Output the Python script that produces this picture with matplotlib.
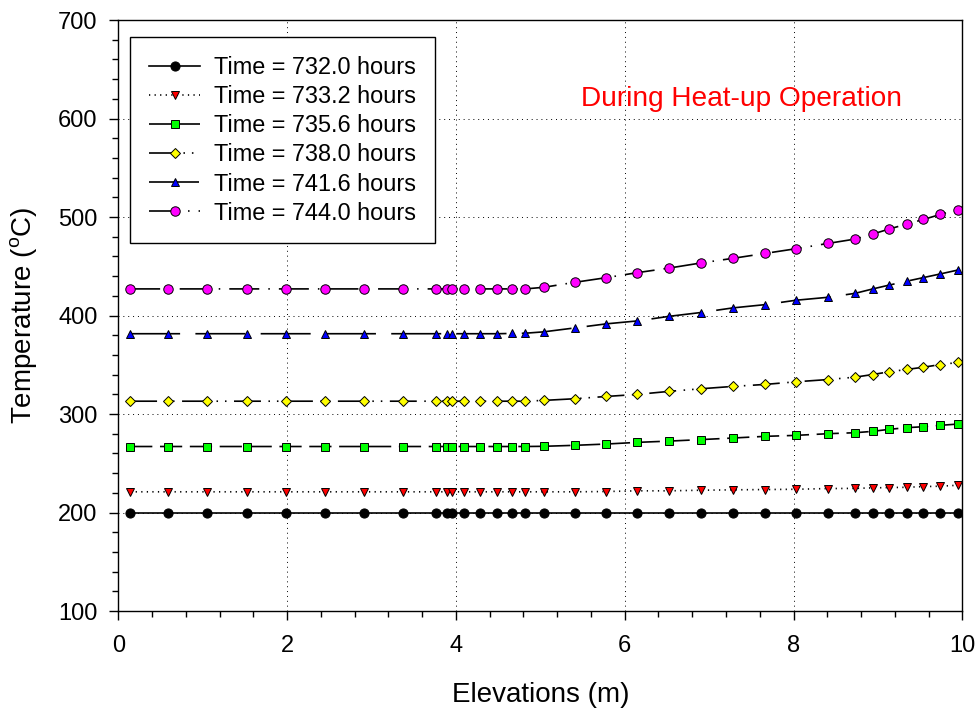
import matplotlib
matplotlib.use("Agg")
import matplotlib.pyplot as plt
from matplotlib.ticker import MultipleLocator

plt.rcParams['font.family'] = ['Liberation Sans', 'DejaVu Sans']
plt.rcParams['mathtext.fontset'] = 'custom'
plt.rcParams['mathtext.rm'] = 'Liberation Sans'
plt.rcParams['mathtext.it'] = 'Liberation Sans'

# ---- data ----
elevation = [0.14, 0.59, 1.05, 1.52, 1.99, 2.45, 2.91, 3.37, 3.77, 3.89, 3.95,
             4.10, 4.29, 4.49, 4.67, 4.82, 5.04, 5.41, 5.78, 6.15, 6.53, 6.90,
             7.28, 7.66, 8.03, 8.41, 8.73, 8.94, 9.13, 9.34, 9.54, 9.74, 9.95]

t732_0 = [200, 200, 200, 200, 200, 200, 200, 200, 200, 200, 200,
          200, 200, 200, 200, 200, 200, 200, 200, 200, 200, 200,
          200, 200, 200, 200, 200, 200, 200, 200, 200, 200, 200]
t733_2 = [221, 221, 221, 221, 221, 221, 221, 221, 221, 221, 221,
          221, 221, 221, 221, 221, 221, 221, 221.3, 222, 222, 222.6,
          223, 223.3, 223.6, 224.3, 224.5, 225, 225.3, 225.6, 226.3, 226.7, 227.7]
t735_6 = [267, 267, 267, 267, 267, 267, 267, 267, 267, 267, 267,
          267, 267, 267, 267, 267, 267.2, 268.2, 269.5, 271.2, 272.5, 274,
          275.6, 277.3, 278.3, 280, 281, 282.4, 284.4, 286.1, 287.1, 288.5, 289.8]
t738_0 = [313, 313, 313, 313, 313, 313, 313, 313, 313, 313, 313,
          313, 313, 313, 313, 313, 313.8, 315.5, 317.8, 319.9, 323, 325.6,
          328, 330, 332.7, 335, 337.4, 340.1, 342.8, 345.2, 347.5, 350.2, 352.3]
t741_6 = [381.5, 381.5, 381.5, 381.5, 381.5, 381.5, 381.5, 381.5, 381.5, 381.5, 381.5,
          381.5, 381.5, 381.5, 381.8, 382, 383.4, 387.4, 391.5, 394.5, 399.2, 403,
          407.7, 411, 415.5, 418.5, 422.5, 427, 430.8, 434.8, 438.5, 442.2, 446.2]
t744_0 = [427, 427, 427, 427, 427, 427, 427, 427, 427, 427, 427,
          427, 427, 427, 427, 427, 428.6, 433.7, 438.4, 443.5, 448.2, 453.3,
          458, 463, 467.8, 473.2, 477.6, 482.7, 487.7, 492.8, 497.5, 502.6, 507.6]

labels = ["Time = 732.0 hours", "Time = 733.2 hours", "Time = 735.6 hours",
          "Time = 738.0 hours", "Time = 741.6 hours", "Time = 744.0 hours"]
series = [t732_0, t733_2, t735_6, t738_0, t741_6, t744_0]

# ---- styles ----
LW = 1.2
markers = ['o', 'v', 's', 'D', '^', 'o']
msizes = [6.6, 6.4, 5.6, 5.0, 6.4, 6.8]
faces = ['black', '#ff0000', '#00ff00', '#ffff00', '#0000ff', '#ff00ff']
def _d(seq):
    return (0, tuple(v / LW for v in seq))
dashes = ['-',
          _d((0.9, 3.1)),
          _d((16, 5.5)),
          _d((19.4, 5.4, 1.1, 5.0, 1.1, 5.4)),
          _d((36, 11)),
          _d((21.6, 6.5, 1.1, 6.5))]

fig = plt.figure(figsize=(9.8, 7.13), dpi=100)
ax = fig.add_axes([118.3 / 980, (713 - 611) / 713, (962.3 - 118.3) / 980, (611 - 20) / 713])

for y, lab, m, ms, fc, ls in zip(series, labels, markers, msizes, faces, dashes):
    ax.plot(elevation, y, color='black', lw=LW, linestyle=ls, marker=m,
            markersize=ms, markerfacecolor=fc, markeredgecolor='black',
            markeredgewidth=0.7, label=lab)

ax.set_xlim(0, 10)
ax.set_ylim(100, 700)
ax.xaxis.set_major_locator(MultipleLocator(2))
ax.xaxis.set_minor_locator(MultipleLocator(0.4))
ax.yaxis.set_major_locator(MultipleLocator(100))
ax.yaxis.set_minor_locator(MultipleLocator(20))
ax.tick_params(which='major', direction='out', length=6.5, width=1.0,
               labelsize=17, pad=10.5)
ax.tick_params(which='minor', direction='out', length=4, width=1.0)
ax.tick_params(axis='y', which='major', pad=8.5)
for s in ax.spines.values():
    s.set_linewidth(1.0)

ax.grid(True, which='major', color='black', linestyle=(0, (1, 4)), lw=0.7)

ax.set_xlabel("Elevations (m)", fontsize=20)
ax.set_ylabel(r"Temperature ($\mathregular{^o}$C)", fontsize=20)
ax.xaxis.set_label_coords(0.5, -0.12)
ax.yaxis.set_label_coords(-0.094, 0.5)

ax.text(7.386, 612.7, "During Heat-up Operation", color='#ff0000',
        fontsize=20.2, ha='center', va='baseline')

leg = ax.legend(loc='upper left', bbox_to_anchor=(0.0139, 0.9707),
                borderaxespad=0, fontsize=16.9, handlelength=2.2,
                handletextpad=0.57, borderpad=0.8, labelspacing=0.26,
                fancybox=False, framealpha=1, edgecolor='black', numpoints=1)
leg.get_frame().set_linewidth(1.0)

fig.savefig("out.png", dpi=100)
